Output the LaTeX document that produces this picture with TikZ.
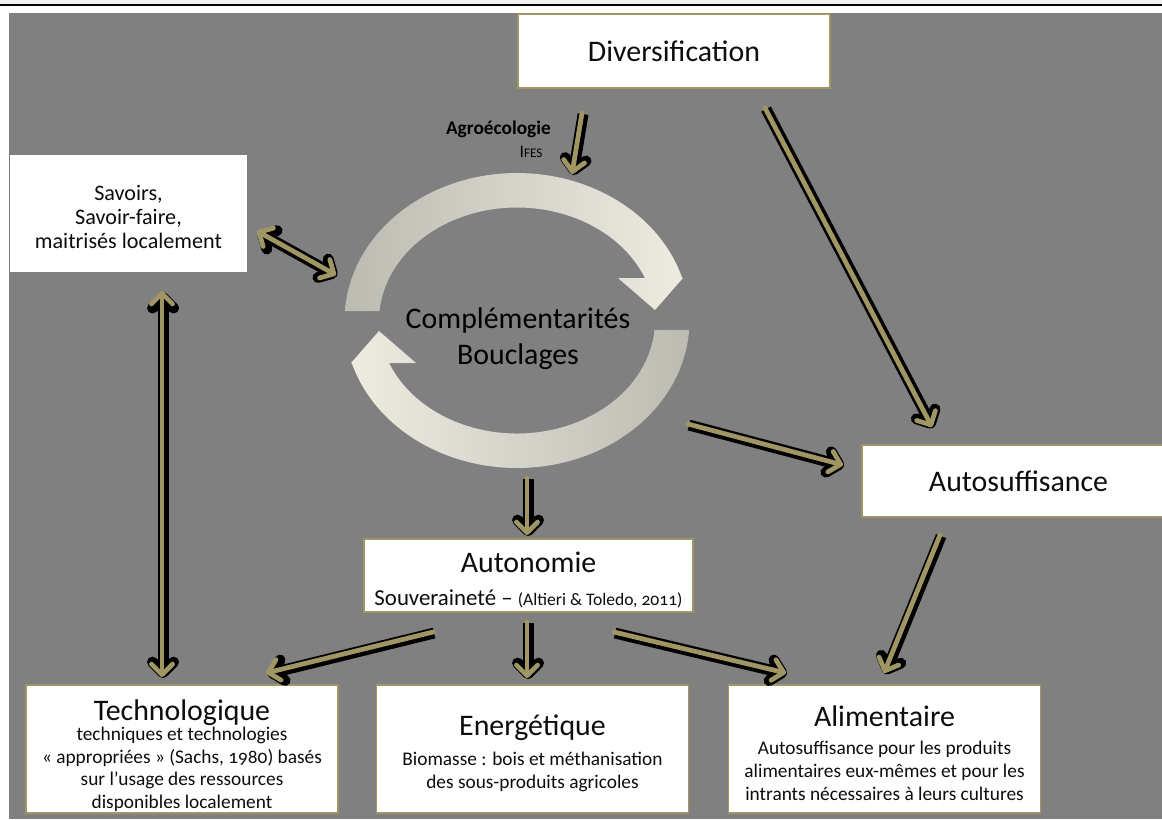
\documentclass[tikz,border=0pt]{standalone}
\usepackage{fontspec}
\setmainfont{Carlito}[Numbers=OldStyle]
\usepackage{tikz}
\usetikzlibrary{arrows.meta}

\definecolor{bgcol}{RGB}{128,128,128}
\definecolor{framecol}{RGB}{160,150,100}
\definecolor{linkcol}{RGB}{160,150,100}
\definecolor{ringcream}{RGB}{238,236,225}
\definecolor{ringgray}{RGB}{188,187,178}
\definecolor{txtcol}{RGB}{13,13,13}

\tikzset{
  >={Straight Barb[round, length=6pt, width=12pt]},
  box/.style={fill=white, draw=framecol, line width=0.85pt, text=txtcol,
              align=center, inner sep=0pt},
  boxtxt/.style={text=txtcol, align=center, inner sep=0pt},
  bigfont/.style={font=\fontsize{17}{20.5}\selectfont},
  subfont/.style={font=\fontsize{11}{13}\selectfont},
  link/.style={draw=linkcol, line width=2.7pt, line cap=round, ->,
               preaction={draw=black, line width=6.2pt,
                          transform canvas={shift={(0.6pt,-0.6pt)}}}},
}

\begin{document}
\begin{tikzpicture}[x=0.02cm, y=-0.02cm] % 1 unit = 1 px, y points down

  \useasboundingbox (0,0) rectangle (1162,819);

  % Page frame
  \fill[white] (0,0) rectangle (1162,819);
  \fill[black!5] (0,0) rectangle (1162,4);
  \draw[black, line width=1.4pt] (0,5.2) -- (1162,5.2);
  \fill[bgcol] (9,13) rectangle (1162,819);

  % Ring: two curved arrows around (517,320.5)
  \path[left color=ringgray, right color=ringcream]
    (344.9,311) arc[start angle=183.7, end angle=343.25,
                    x radius=172.5, y radius=147.5]
    -- (683,278) -- (655,310) -- (618,278) -- (644.9,278)
    arc[start angle=337.9, end angle=184.8, x radius=138, y radius=113]
    -- cycle;
  \path[left color=ringcream, right color=ringgray]
    (689.1,330) arc[start angle=3.7, end angle=163.25,
                    x radius=172.5, y radius=147.5]
    -- (351,363) -- (379,331) -- (416,363) -- (389.1,363)
    arc[start angle=157.9, end angle=4.8, x radius=138, y radius=113]
    -- cycle;
  \node[bigfont, text=black, align=center] (cycle) at (518,339)
    {Complémentarités\\Bouclages};

  % Labels above the ring
  \node[anchor=east, text=black, font=\fontsize{11}{12}\selectfont\bfseries]
    (agro) at (557,129) {Agroécologie};
  \node[text=black, font=\fontsize{10}{12}\selectfont] (ifes) at (531,152)
    {I{\fontsize{7.5}{9}\selectfont FES}};

  % Boxes
  \node[box, bigfont, minimum width=6.24cm, minimum height=1.48cm]
    (div) at (674,51) {Diversification};
  \node[box, draw=none, minimum width=4.74cm, minimum height=2.34cm]
    (savoirs) at (128.5,213.5) {};
  \node[boxtxt, font=\fontsize{12.6}{13.8}\selectfont] (savoirsTxt)
    at (128.5,217) {Savoirs,\\Savoir-faire,\\maitrisés localement};
  \node[box, bigfont, minimum width=6.26cm, minimum height=1.44cm]
    (autosuf) at (1018.5,481) {Autosuffisance};
  \node[box, minimum width=6.58cm, minimum height=1.46cm]
    (autonomie) at (528.5,575.5) {};
  \node[boxtxt, font=\fontsize{13}{19}\selectfont] (autonomieTxt)
    at (528.5,580)
    {{\fontsize{17}{20}\selectfont Autonomie}\\
     Souveraineté – {\fontsize{10}{12}\selectfont(Altieri \& Toledo, 2011)}};

  \node[box, minimum width=6.24cm, minimum height=2.56cm]
    (techno) at (182,749) {};
  \node[boxtxt, subfont] (technoTxt) at (182,756)
    {{\fontsize{17}{20}\selectfont Technologique}\\[-2pt]
     techniques et technologies\\
     « appropriées » (Sachs, 1980) basés\\
     sur l’usage des ressources\\
     disponibles localement};
  \node[box, minimum width=6.24cm, minimum height=2.56cm]
    (energ) at (532.5,749) {};
  \node[boxtxt, subfont] (energTxt) at (532.5,753)
    {{\fontsize{17}{20}\selectfont Energétique}\\[4pt]
     Biomasse : bois et méthanisation\\
     des sous-produits agricoles};
  \node[box, minimum width=6.24cm, minimum height=2.56cm]
    (alim) at (884.5,749) {};
  \node[boxtxt, subfont] (alimTxt) at (884.5,753)
    {{\fontsize{17}{20}\selectfont Alimentaire}\\[3pt]
     Autosuffisance pour les produits\\
     alimentaires eux-mêmes et pour les\\
     intrants nécessaires à leurs cultures};

  % Connector ends
  \coordinate (divA) at (582,113);   \coordinate (ringTop) at (572,174);
  \coordinate (divB) at (765,108);   \coordinate (autoTop) at (932,427);
  \coordinate (savR) at (257,231);   \coordinate (ringLeft) at (336,275);
  \coordinate (savB) at (162,291);   \coordinate (techTop) at (162,677);
  \coordinate (ringR) at (688,424);  \coordinate (autoLeft) at (843,465);
  \coordinate (ringBot) at (527,478);\coordinate (autnTop) at (527,535);
  \coordinate (autoBot) at (940,535);\coordinate (alimTop) at (884,673);
  \coordinate (autnL) at (433,632);  \coordinate (techTopR) at (266,673);
  \coordinate (autnB) at (527,622);  \coordinate (enerTop) at (527,678);
  \coordinate (autnR) at (614,632);  \coordinate (alimTopL) at (786,673);

  % Connectors
  \foreach \a/\b in {divA/ringTop, divB/autoTop, ringR/autoLeft,
                     ringBot/autnTop, autoBot/alimTop, autnL/techTopR,
                     autnB/enerTop, autnR/alimTopL}
    \draw[link] (\a) -- (\b);
  \foreach \a/\b in {savR/ringLeft, savB/techTop}
    \draw[link, <->] (\a) -- (\b);

\end{tikzpicture}
\end{document}
